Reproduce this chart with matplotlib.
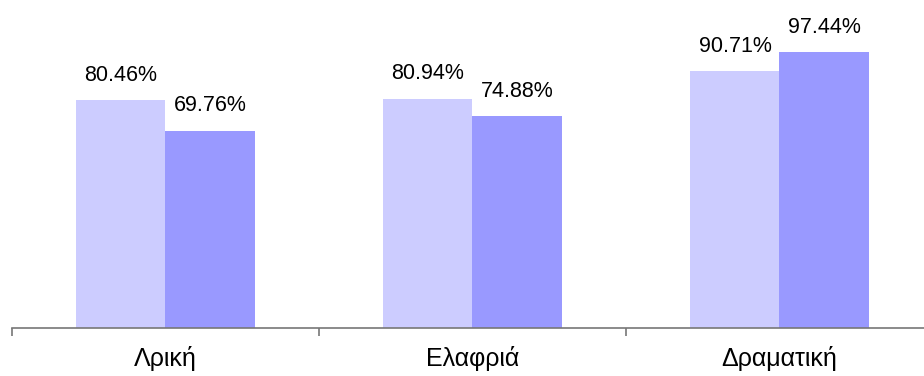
import matplotlib.pyplot as plt
import numpy as np

plt.rcParams['font.family'] = ['Liberation Sans', 'DejaVu Sans']

categories = ['Λρική', 'Ελαφριά', 'Δραματική']
series_a = [80.46, 80.94, 90.71]
series_b = [69.76, 74.88, 97.44]
labels_a = ['80.46%', '80.94%', '90.71%']
labels_b = ['69.76%', '74.88%', '97.44%']

fig = plt.figure(figsize=(9.24, 3.76), dpi=100)
# the plot area runs a little past the right edge, as in the original
ax = fig.add_axes([12 / 924, 48 / 376, 921 / 924, 283 / 376])

x = np.arange(len(categories))
w = 0.29
bars_a = ax.bar(x - w / 2, series_a, w, color='#CCCCFF', zorder=2)
bars_b = ax.bar(x + w / 2, series_b, w, color='#9999FF', zorder=2)

for bars, labels in ((bars_a, labels_a), (bars_b, labels_b)):
    for b, lab in zip(bars, labels):
        ax.annotate(lab, (b.get_x() + b.get_width() / 2, b.get_height()),
                    xytext=(0, 14), textcoords='offset points',
                    ha='center', va='baseline', fontsize=15.5)

ax.set_xlim(-0.5, 2.5)
ax.set_ylim(0, 100)
ax.set_yticks([])
for s in ('top', 'right', 'left'):
    ax.spines[s].set_visible(False)
ax.spines['bottom'].set_color('#777777')
ax.spines['bottom'].set_linewidth(1.2)

ax.set_xticks([-0.5, 0.5, 1.5, 2.5])
ax.set_xticklabels([])
ax.tick_params(axis='x', which='major', direction='out', length=6,
               color='#777777', width=1.2)
ax.set_xticks(x, minor=True)
ax.set_xticklabels(categories, minor=True, fontsize=18)
ax.tick_params(axis='x', which='minor', length=0, pad=13)

fig.savefig('out.png', dpi=100)
